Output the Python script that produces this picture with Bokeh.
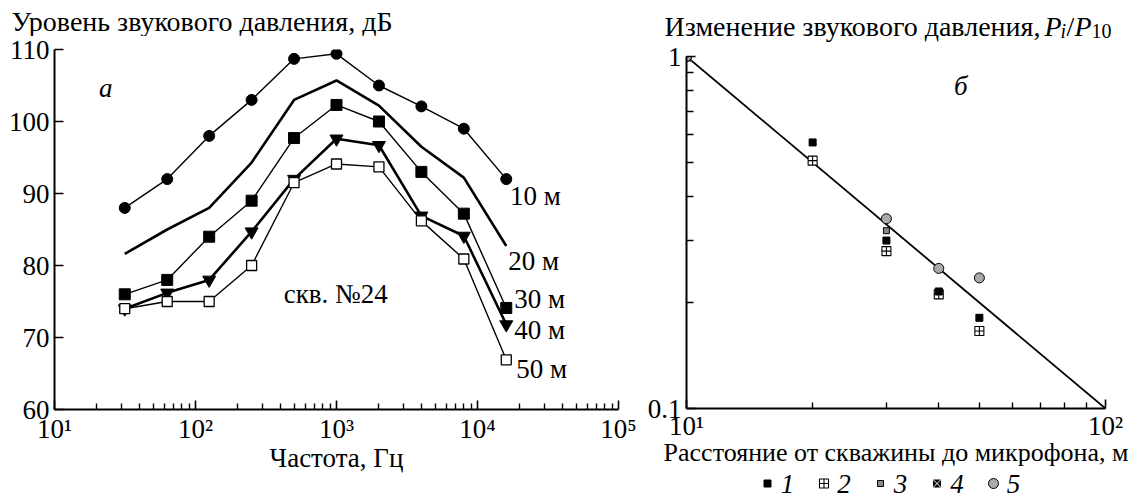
from bokeh.plotting import figure
from bokeh.models import Label, FixedTicker
from bokeh.layouts import row, column
from bokeh.embed import file_html
from bokeh.resources import INLINE

# ---------------- data: panel a ----------------
freq = [31.5, 63, 125, 250, 500, 1000, 2000, 4000, 8000, 16000]
lvl_10 = [88.0, 92.0, 98.0, 103.0, 108.7, 109.4, 105.0, 102.1, 99.0, 92.0]
lvl_20 = [81.6, 85.0, 88.0, 94.3, 103.0, 105.7, 102.2, 96.5, 92.2, 82.7]
lvl_30 = [76.0, 78.0, 84.0, 89.0, 97.7, 102.3, 100.0, 93.0, 87.2, 74.1]
lvl_40 = [74.0, 76.2, 78.0, 84.7, 92.0, 97.6, 96.7, 86.9, 84.1, 71.8]
lvl_50 = [74.0, 75.0, 75.0, 80.0, 91.5, 94.1, 93.7, 86.2, 80.9, 66.9]
left_xticks = [10, 100, 1000, 10000, 100000]
left_xlabels = ["10¹", "10²", "10³", "10⁴", "10⁵"]
left_yticks = [60, 70, 80, 90, 100, 110]

# ---------------- data: panel б ----------------
dist_1 = [10, 20, 30, 40, 50]
ratio_1 = [1.0, 0.57, 0.30, 0.215, 0.181]
dist_2 = [10, 20, 30, 40, 50]
ratio_2 = [1.0, 0.506, 0.28, 0.211, 0.166]
dist_3 = [10, 30]
ratio_3 = [1.0, 0.32]
dist_4 = [10, 30]
ratio_4 = [1.0, 0.28]
dist_5 = [10, 30, 40, 50]
ratio_5 = [1.0, 0.346, 0.25, 0.235]
fit_dist = [10, 100]
fit_ratio = [1.0, 0.1]
right_xticks = [10, 100]
right_xlabels = ["10¹", "10²"]
right_yticks = [0.1, 1]
right_ylabels = ["0.1", "1"]
legend_labels = ["1", "2", "3", "4", "5"]

FONT = "Liberation Serif, DejaVu Serif, serif"
TICK_SIZE = "27px"
TEXT_SIZE = "27px"
TITLE_SIZE = "28px"
SUB_SIZE = "20px"

# marker styles for panel б series (shared by plot and legend)
STYLE_1 = dict(marker="square", size=7, fill_color="black", line_color="black")
STYLE_2 = dict(marker="square_cross", size=9, fill_color="white", line_color="black", line_width=1.1)
STYLE_3 = dict(marker="square", size=6, fill_color="#888888", line_color="black", line_width=1)
STYLE_4 = dict(marker="square_x", size=9, fill_color="black", line_color="white", line_width=1)
STYLE_5 = dict(marker="circle", size=10, fill_color="#aaaaaa", line_color="black", line_width=1)


def style_axis(ax, minor=True):
    ax.axis_line_width = 2
    ax.axis_line_color = "black"
    ax.major_tick_in = 9
    ax.major_tick_out = 0
    ax.major_tick_line_width = 1.6
    ax.minor_tick_in = 6 if minor else 0
    ax.minor_tick_out = 0
    ax.minor_tick_line_width = 1.4
    ax.major_label_text_font = FONT
    ax.major_label_text_font_size = TICK_SIZE
    ax.major_label_text_color = "black"
    ax.axis_label_text_font = FONT
    ax.axis_label_text_font_size = TEXT_SIZE
    ax.axis_label_text_font_style = "normal"
    ax.axis_label_text_color = "black"


def text_label(fig, x, y, txt, size=TEXT_SIZE, style="normal", baseline="middle", align="left"):
    fig.add_layout(Label(x=x, y=y, text=txt, text_font=FONT, text_font_size=size,
                         text_font_style=style, text_baseline=baseline, text_align=align,
                         text_color="black"))


def blank(w, h):
    f = figure(width=w, height=h, x_range=(0, w), y_range=(h, 0), x_axis_type=None, y_axis_type=None,
               output_backend="svg", toolbar_location=None, title=None, min_border=0,
               frame_align=False)
    f.outline_line_color = None
    f.grid.visible = False
    return f


# ================= panel a =================
h1 = blank(644, 36)
text_label(h1, 11, 20.5, "Уровень звукового давления, дБ", size=TITLE_SIZE)

p1 = figure(frame_width=564, frame_height=360, x_axis_type="log", x_range=(10, 100000), y_range=(60, 110),
            output_backend="svg", toolbar_location=None, title=None, frame_align=False,
            min_border_left=54, min_border_right=26, min_border_top=13, min_border_bottom=80)
p1.outline_line_color = None
p1.grid.visible = False

minor_left = [m * d for d in [10, 100, 1000, 10000] for m in range(2, 10)]
p1.xaxis.ticker = FixedTicker(ticks=left_xticks, minor_ticks=minor_left)
p1.xaxis.major_label_overrides = {t: s for t, s in zip(left_xticks, left_xlabels)}
p1.yaxis.ticker = FixedTicker(ticks=left_yticks, minor_ticks=[])
style_axis(p1.xaxis[0])
style_axis(p1.yaxis[0], minor=False)
p1.xaxis.axis_label = "Частота, Гц"
p1.xaxis.major_label_standoff = 4
p1.xaxis.axis_label_standoff = -4
p1.yaxis.major_label_standoff = 5

p1.line(freq, lvl_10, line_width=1.4, color="black")
p1.line(freq, lvl_20, line_width=2.6, color="black")
p1.line(freq, lvl_30, line_width=1.4, color="black")
p1.line(freq, lvl_40, line_width=2.6, color="black")
p1.line(freq, lvl_50, line_width=1.4, color="black")
p1.scatter(freq, lvl_10, marker="circle", size=11, fill_color="black", line_color="black")
p1.scatter(freq, lvl_30, marker="square", size=11, fill_color="black", line_color="black")
p1.scatter(freq, lvl_40, marker="inverted_triangle", size=13, fill_color="black", line_color="black")
p1.scatter(freq, lvl_50, marker="square", size=10, fill_color="white", line_color="black", line_width=1.3)

for txt, xx, yy in [("10 м", 17000, 89.7), ("20 м", 16500, 80.65), ("30 м", 18200, 75.4),
                    ("40 м", 18200, 71.05), ("50 м", 18800, 65.6)]:
    text_label(p1, xx, yy, txt)
text_label(p1, 422, 76.06, "скв. №24")
text_label(p1, 20.7, 104.7, "а", style="italic")

# ================= panel б =================
h2 = blank(502, 42)
text_label(h2, 20, 25.5, "Изменение звукового давления,", size=TITLE_SIZE)
for txt, xx, yy, sz, st in [("P", 400, 25.5, TITLE_SIZE, "italic"), ("i", 416, 30.5, SUB_SIZE, "italic"),
                            ("/", 422, 25.5, TITLE_SIZE, "normal"), ("P", 430, 25.5, TITLE_SIZE, "italic"),
                            ("10", 447, 30.5, SUB_SIZE, "normal")]:
    text_label(h2, xx, yy, txt, size=sz, style=st)

p2 = figure(frame_width=419, frame_height=352, x_axis_type="log", y_axis_type="log",
            x_range=(10, 100), y_range=(0.1, 1),
            output_backend="svg", toolbar_location=None, title=None, frame_align=False,
            min_border_left=40, min_border_right=43, min_border_top=14, min_border_bottom=58)
p2.outline_line_color = None
p2.grid.visible = False

p2.xaxis.ticker = FixedTicker(ticks=right_xticks, minor_ticks=[20, 30, 40, 50, 60, 70, 80, 90])
p2.xaxis.major_label_overrides = {t: s for t, s in zip(right_xticks, right_xlabels)}
p2.yaxis.ticker = FixedTicker(ticks=right_yticks,
                              minor_ticks=[0.2, 0.3, 0.4, 0.5, 0.6, 0.7, 0.8, 0.9])
p2.yaxis.major_label_overrides = {t: s for t, s in zip(right_yticks, right_ylabels)}
style_axis(p2.xaxis[0])
style_axis(p2.yaxis[0])
p2.yaxis.minor_tick_in = 7
p2.xaxis.axis_label = "Расстояние от скважины до микрофона, м"
p2.xaxis.axis_label_text_font_size = "26px"
p2.xaxis.major_label_standoff = 2
p2.xaxis.axis_label_standoff = -6
p2.yaxis.major_label_standoff = 5

p2.line(fit_dist, fit_ratio, line_width=1.8, color="black")
p2.scatter(dist_4, ratio_4, **STYLE_4)
p2.scatter(dist_3, ratio_3, **STYLE_3)
p2.scatter(dist_2, ratio_2, **STYLE_2)
p2.scatter(dist_1, ratio_1, **STYLE_1)
p2.scatter(dist_5, ratio_5, **STYLE_5)
text_label(p2, 43.5, 0.826, "б", style="italic")

# legend row under panel б
f2 = blank(502, 29)
for i, (lab, st) in enumerate(zip(legend_labels, [STYLE_1, STYLE_2, STYLE_3, STYLE_4, STYLE_5])):
    gx = 123 + 56.5 * i
    f2.scatter([gx], [14], **st)
    text_label(f2, gx + 20, 14, lab, style="italic", align="center")

layout = row(column(h1, p1), column(h2, p2, f2))
open("out.html", "w").write(file_html(layout, INLINE))
